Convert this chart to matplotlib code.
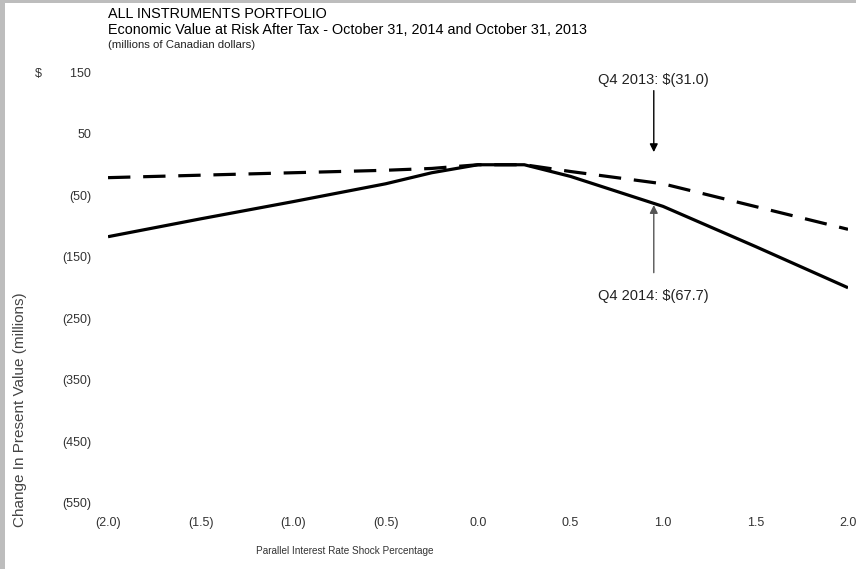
import matplotlib.pyplot as plt
import matplotlib.patches as mpatches
from matplotlib.ticker import FuncFormatter

plt.rcParams['font.family'] = ['Liberation Sans Narrow', 'Liberation Sans', 'DejaVu Sans']

# Data (millions of CAD)
shock = [-2.0, -1.5, -1.0, -0.5, -0.25, 0.0, 0.25, 0.5, 1.0, 1.5, 2.0]
q4_2014 = [-117, -88, -60, -31, -13, 0, 0, -19, -67.7, -133, -200]
q4_2013 = [-21, -17, -13, -9, -6, 0, 0, -11, -31.0, -68, -105]

x_ticks = [-2.0, -1.5, -1.0, -0.5, 0.0, 0.5, 1.0, 1.5, 2.0]
y_ticks = [150, 50, -50, -150, -250, -350, -450, -550]

fig = plt.figure(figsize=(8.56, 5.69), dpi=100)
ax = fig.add_axes([0.1262, 0.116, 0.8645, 0.7566])

# grey scan border
fig.patches.append(mpatches.Rectangle((0, 0), 5/856, 1, transform=fig.transFigure,
                                      facecolor='#bdbdbd', edgecolor='none'))
fig.patches.append(mpatches.Rectangle((0, 1 - 3/569), 1, 3/569, transform=fig.transFigure,
                                      facecolor='#bdbdbd', edgecolor='none'))

ax.plot(shock, q4_2014, color='black', lw=2.3, solid_capstyle='butt')
ax.plot(shock, q4_2013, color='black', lw=2.3, dashes=(7, 4), dash_capstyle='butt')

ax.set_xlim(-2.0, 2.0)
ax.set_ylim(-550, 150)
ax.set_xticks(x_ticks)
ax.set_yticks(y_ticks)

def fmt_x(v, pos):
    return f'({abs(v):.1f})' if v < 0 else f'{v:.1f}'

def fmt_y(v, pos):
    v = int(round(v))
    if v == 150:
        return '$        150'
    return f'({abs(v)})' if v < 0 else f'{v}'

ax.xaxis.set_major_formatter(FuncFormatter(fmt_x))
ax.yaxis.set_major_formatter(FuncFormatter(fmt_y))
ax.tick_params(axis='x', length=0, pad=10, labelsize=9, labelcolor='#333333')
ax.tick_params(axis='y', length=0, pad=12, labelsize=9, labelcolor='#333333')
for s in ax.spines.values():
    s.set_visible(False)

# annotations
ax.annotate('', xy=(0.95, 16), xytext=(0.95, 125),
            arrowprops=dict(arrowstyle='-|>', color='black', lw=1.0, mutation_scale=12))
ax.text(0.95, 137, 'Q4 2013: $(31.0)', ha='center', va='center', fontsize=10.5, color='#222222')
ax.annotate('', xy=(0.95, -61), xytext=(0.95, -180),
            arrowprops=dict(arrowstyle='-|>', color='#555555', lw=1.0, mutation_scale=12))
ax.text(0.95, -213, 'Q4 2014: $(67.7)', ha='center', va='center', fontsize=10.5, color='#222222')

# titles
fig.text(108/856, 1 - 14/569, 'ALL INSTRUMENTS PORTFOLIO', ha='left', va='center',
         fontsize=10.4, color='black')
fig.text(108/856, 1 - 30/569,
         'Economic Value at Risk After Tax - October 31, 2014 and October 31, 2013',
         ha='left', va='center', fontsize=10.4, color='black')
fig.text(108/856, 1 - 45/569, '(millions of Canadian dollars)', ha='left', va='center',
         fontsize=8.2, color='#222222')

fig.text(20/856, 1 - 410/569, 'Change In Present Value (millions)', rotation=90,
         ha='center', va='center', fontsize=11, color='#444444')
fig.text(345/856, 1 - 551/569, 'Parallel Interest Rate Shock Percentage',
         ha='center', va='center', fontsize=7.2, color='#333333')

fig.savefig('out.png', dpi=100)
